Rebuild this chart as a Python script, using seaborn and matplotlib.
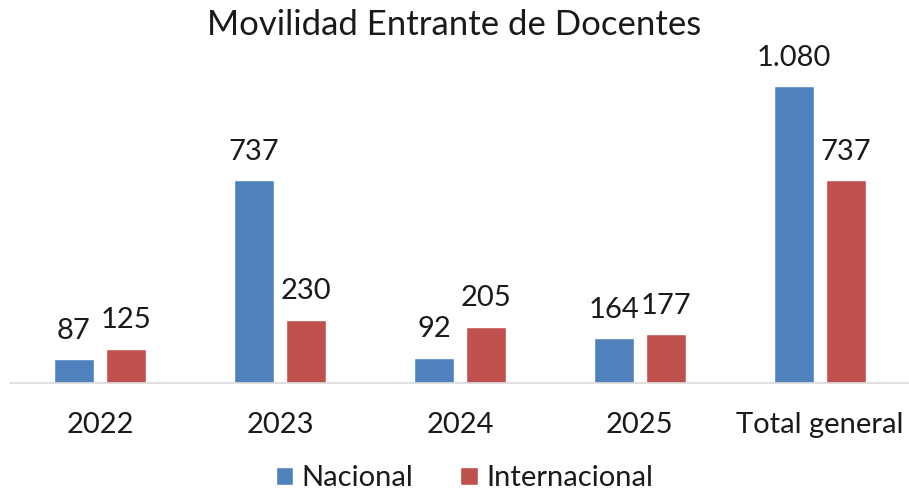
import matplotlib
matplotlib.use("Agg")
import matplotlib.pyplot as plt
import seaborn as sns
import pandas as pd

categories = ["2022", "2023", "2024", "2025", "Total general"]
nacional = [87, 737, 92, 164, 1080]
internacional = [125, 230, 205, 177, 737]
series = ["Nacional", "Internacional"]

df = pd.DataFrame({
    "Año": categories * 2,
    "Valor": nacional + internacional,
    "Tipo": [series[0]] * len(categories) + [series[1]] * len(categories),
})

sns.set_style("white")
plt.rcParams["font.family"] = ["Lato", "DejaVu Sans"]

fig = plt.figure(figsize=(9.09, 4.96), dpi=100)
ax = fig.add_axes([0.011, 0.228, 0.99, 0.651])

sns.barplot(data=df, x="Año", y="Valor", hue="Tipo", ax=ax,
            palette=["#4F81BD", "#C0504D"], width=0.578, gap=0.23,
            saturation=1, legend=True)

ax.set_xlim(-0.5, 4.5)
ax.set_ylim(0, 1175)

# etiquetas de datos
for cont in ax.containers:
    labels = [f"{v:,.0f}".replace(",", ".") for v in cont.datavalues]
    ax.bar_label(cont, labels=labels, padding=11, fontsize=21, color="#1a1a1a")

for s in ["top", "right", "left"]:
    ax.spines[s].set_visible(False)
ax.spines["bottom"].set_color("#d9d9d9")
ax.spines["bottom"].set_linewidth(1.2)
ax.set_yticks([])
ax.set_xlabel("")
ax.set_ylabel("")
ax.tick_params(axis="x", length=0, pad=21, labelsize=21, labelcolor="#1a1a1a")

ax.legend(loc="center", bbox_to_anchor=(0.505, -0.295), ncol=2,
          frameon=False, fontsize=21, handlelength=0.6, handleheight=0.6,
          handletextpad=0.3, columnspacing=1.6, labelcolor="#1a1a1a")

fig.text(0.5, 0.95, "Movilidad Entrante de Docentes", ha="center", va="center",
         fontsize=25, color="#1a1a1a")

fig.savefig("out.png", dpi=100)
